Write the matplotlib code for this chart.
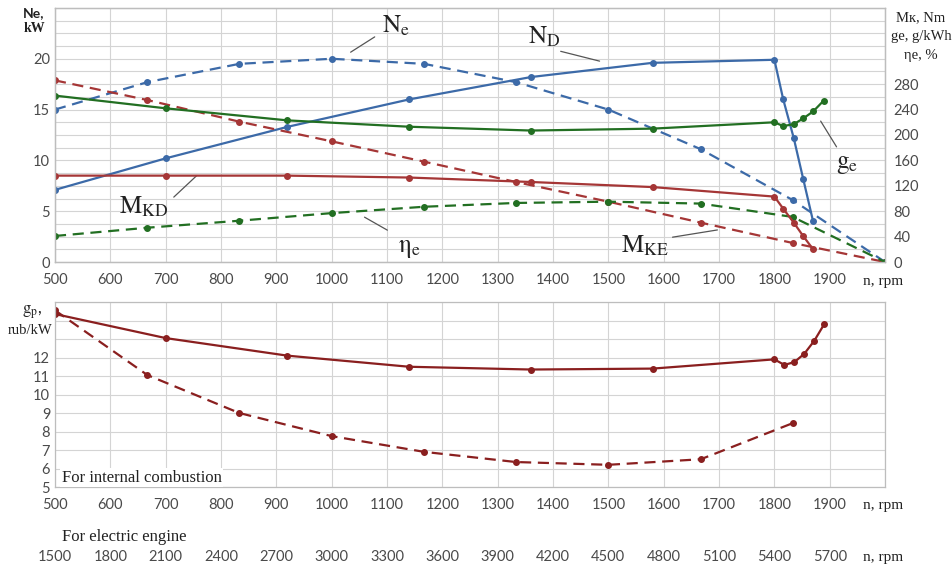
import numpy as np
import matplotlib.pyplot as plt
import matplotlib.transforms as mtransforms

plt.rcParams['mathtext.fontset'] = 'stix'
plt.rcParams['font.family'] = ['Lato', 'DejaVu Sans']

# engine speed, rpm
n_dash = [500, 667, 833, 1000, 1167, 1333, 1500, 1667, 1833, 2000]
n_solid = [500, 700, 920, 1140, 1360, 1580, 1800, 1816, 1835, 1852, 1870, 1889]

# dashed curves (internal combustion)
Ne = [15.0, 17.7, 19.5, 20.0, 19.5, 17.7, 15.0, 11.1, 6.1, 0]      # kW
Mke = [286, 255, 221, 190, 158, 126, 95, 62, 30, 0]                 # Nm
eta_e = [41, 54, 65, 77, 87, 93, 95, 92, 71, 0]                     # %

# solid curves (electric)
Nd = [7.1, 10.2, 13.3, 16.0, 18.2, 19.6, 19.9, 16.0, 12.2, 8.2, 4.0]   # kW
Mkd = [136, 136, 136, 133, 126, 118, 103, 84, 62, 41, 20]              # Nm
ge = [262, 242, 223, 213, 207, 210, 220, 214, 217, 226, 237, 254]      # g/kWh

# specific cost, rub/kW
n_gp_solid = [500, 700, 920, 1140, 1360, 1580, 1800, 1818, 1836, 1854, 1872, 1890]
gp_solid = [14.35, 13.05, 12.1, 11.5, 11.35, 11.4, 11.9, 11.6, 11.75, 12.2, 12.9, 13.8]
n_gp_dash = [500, 667, 833, 1000, 1167, 1333, 1500, 1667, 1833]
gp_dash = [14.55, 11.05, 9.0, 7.75, 6.9, 6.35, 6.2, 6.5, 8.45]

n_ticks = list(range(500, 2001, 100))
n_labels = [str(v) for v in range(500, 2000, 100)] + ['']
el_labels = [str(v) for v in range(1500, 5701, 300)]

blue = '#3c6aa8'
red = '#a53636'
green = '#226f22'
dred = '#8a1f1f'
gridc = '#d4d4d4'
tickc = '#4a4a4a'

fig = plt.figure(figsize=(9.53, 5.68), dpi=100)
ax = fig.add_axes([0.0577, 0.5387, 0.871, 0.4473])
ax2 = ax.twinx()
axb = fig.add_axes([0.0577, 0.1426, 0.871, 0.3257])

def style(a):
    for s in a.spines.values():
        s.set_color('#bdbdbd')
        s.set_linewidth(0.9)
    a.tick_params(length=0, colors=tickc, labelsize=10.5)

# ---- top panel
ax.set_xlim(500, 2000)
ax.set_ylim(0, 25)
ax2.set_ylim(0, 400)
ax.set_xticks(n_ticks)
ax.set_xticklabels(n_labels)
ax.set_yticks([0, 5, 10, 15, 20])
ax.set_yticks(np.arange(0, 25.01, 1.25), minor=True)
ax2.set_yticks(range(0, 281, 40))
ax.grid(True, which='both', color=gridc, lw=0.8)
ax.set_axisbelow(True)
style(ax)
style(ax2)
ax.tick_params(axis='x', pad=8)
ax2.tick_params(axis='y', pad=6)
ax.tick_params(which='minor', length=0)

lw = 1.6
ax.plot(n_dash, Ne, '--', color=blue, lw=lw, marker='o', ms=4, dashes=(5, 3))
ax.plot(n_solid[:11], Nd, '-', color=blue, lw=lw, marker='o', ms=4)
ax2.plot(n_dash, Mke, '--', color=red, lw=lw, marker='o', ms=4, dashes=(5, 3))
ax2.plot(n_dash, eta_e, '--', color=green, lw=lw, marker='o', ms=4, dashes=(5, 3))
ax2.plot(n_solid[:11], Mkd, '-', color=red, lw=lw, marker='o', ms=4)
ax2.plot(n_solid, ge, '-', color=green, lw=lw, marker='o', ms=4)

def label(txt, xy_text, p0, p1):
    ax.annotate('', xy=p1, xytext=p0,
                arrowprops=dict(arrowstyle='-', color='#555555', lw=0.9))
    ax.text(xy_text[0], xy_text[1], txt, fontsize=18, ha='center', va='center',
            color='#222222')

label(r'$\mathrm{N_e}$', (1116, 23.3), (1030, 20.5), (1082, 22.3))
label(r'$\mathrm{N_D}$', (1384, 22.2), (1409, 20.8), (1489, 19.7))
label(r'$\mathrm{\eta_e}$', (1140, 1.3), (1055, 4.55), (1105, 3.0))
label(r'$\mathrm{M_{KD}}$', (661, 5.4), (711, 6.2), (760, 8.7))
label(r'$\mathrm{M_{KE}}$', (1566, 1.6), (1611, 2.4), (1702, 3.2))
label(r'$\mathrm{g_e}$', (1931, 9.6), (1915, 11.1), (1881, 14.1))

fig.text(34 / 953, 1 - 13 / 568, 'Ne,', fontsize=10, fontweight='bold',
         ha='center', va='center', color='#222222')
fig.text(34 / 953, 1 - 28 / 568, 'kW', fontsize=10, fontweight='bold',
         family='Liberation Serif', ha='center', va='center', color='#222222')
for i, t in enumerate(['Mк, Nm', 'ge, g/kWh', 'ηe, %']):
    fig.text(921 / 953, 1 - (18 + 18.5 * i) / 568, t, fontsize=10.5,
             family='Liberation Serif', ha='center', va='center', color='#222222')
fig.text(883 / 953, 1 - 282 / 568, 'n, rpm', fontsize=11,
         family='Liberation Serif', ha='center', va='center', color='#222222')

# ---- bottom panel
axb.set_xlim(500, 2000)
axb.set_ylim(5, 15)
axb.set_xticks(n_ticks)
axb.set_xticklabels(n_labels)
axb.set_yticks(range(5, 16))
axb.set_yticklabels([str(v) for v in range(5, 13)] + ['', '', ''])
axb.grid(True, color=gridc, lw=0.8)
axb.set_axisbelow(True)
style(axb)
axb.tick_params(axis='x', pad=8)

axb.plot(n_gp_solid, gp_solid, '-', color=dred, lw=lw, marker='o', ms=4)
axb.plot(n_gp_dash, gp_dash, '--', color=dred, lw=lw, marker='o', ms=4, dashes=(5, 3))

axb.text(512, 5.5, 'For internal combustion', fontsize=12, family='Liberation Serif',
         ha='left', va='center', color='#222222',
         bbox=dict(facecolor='white', edgecolor='none', pad=1.0))

fig.text(32 / 953, 1 - 312 / 568, r'$\mathrm{g_p}$,', fontsize=12,
         ha='center', va='center', color='#222222')
fig.text(30 / 953, 1 - 330 / 568, 'rub/kW', fontsize=10.5, family='Liberation Serif',
         ha='center', va='center', color='#222222')
fig.text(883 / 953, 1 - 505 / 568, 'n, rpm', fontsize=11,
         family='Liberation Serif', ha='center', va='center', color='#222222')

fig.text(62 / 953, 1 - 537 / 568, 'For electric engine', fontsize=12,
         family='Liberation Serif', ha='left', va='center', color='#222222')
trans = mtransforms.blended_transform_factory(axb.transData, fig.transFigure)
for r, t in zip(range(500, 1901, 100), el_labels):
    axb.text(r, 1 - 557 / 568, t, transform=trans, fontsize=10.5, color=tickc,
             ha='center', va='center')
fig.text(883 / 953, 1 - 557 / 568, 'n, rpm', fontsize=11,
         family='Liberation Serif', ha='center', va='center', color='#222222')

fig.savefig('out.png', dpi=100)
